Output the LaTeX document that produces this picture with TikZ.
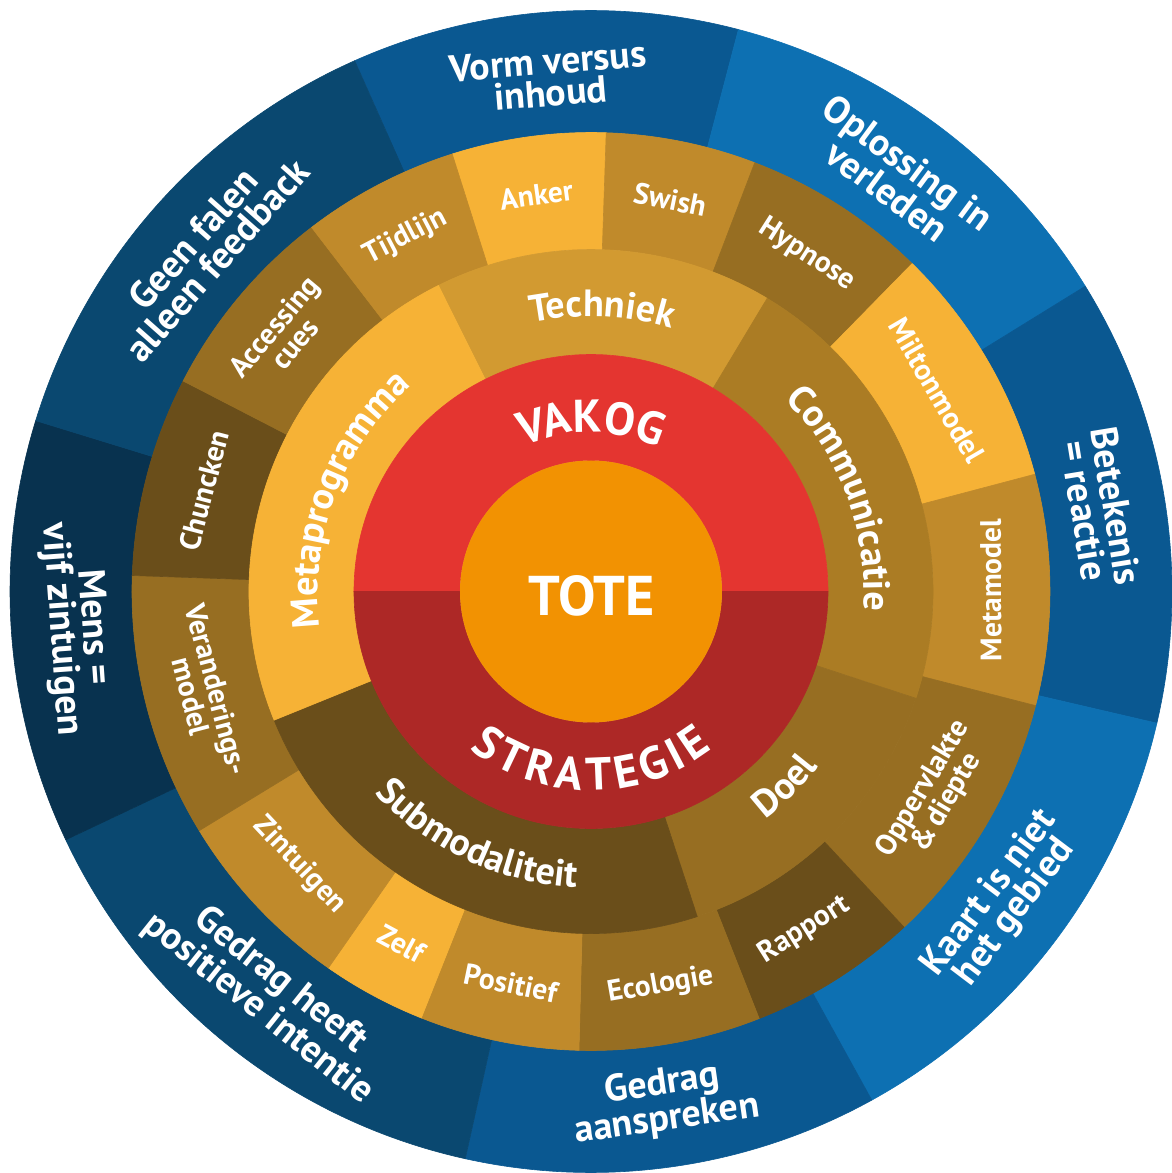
\documentclass[tikz,border=0pt]{standalone}
\usepackage{fontspec}
\setmainfont{PT Sans}
\usetikzlibrary{decorations.text}

\definecolor{bluemid}{HTML}{0A5891}
\definecolor{bluelight}{HTML}{0D70B2}
\definecolor{bluedark}{HTML}{0A4870}
\definecolor{bluedeep}{HTML}{08324F}
\definecolor{goldA}{HTML}{F6B236}
\definecolor{goldB}{HTML}{C08A2B}
\definecolor{goldC}{HTML}{976E22}
\definecolor{goldD}{HTML}{6A4E1A}
\definecolor{techgold}{HTML}{D29A31}
\definecolor{commgold}{HTML}{AB7C24}
\definecolor{vakred}{HTML}{E43530}
\definecolor{stratred}{HTML}{AD2826}
\definecolor{toteorange}{HTML}{F29202}

% piece of a ring: inner radius, outer radius, from, to, colour
\newcommand{\ringpart}[5]{%
  \filldraw[fill=#5,draw=#5,line width=.6pt] (#3:#1) arc[start angle=#3,end angle=#4,radius=#1]
    -- (#4:#2) arc[start angle=#4,end angle=#3,radius=#2] -- cycle;}

\newcommand{\outerfont}{\bfseries\fontsize{38}{32}\selectfont}
\newcommand{\skillfont}{\bfseries\fontsize{29.5}{27}\selectfont}
\newcommand{\themefont}{\bfseries\fontsize{38}{38}\selectfont}
\newcommand{\corefont}{\bfseries\fontsize{46}{46}\selectfont}

\begin{document}
\begin{tikzpicture}[x=1pt,y=1pt,
outer label/.style={text=white,font=\outerfont,align=center,inner sep=0pt},
skill label/.style={text=white,font=\skillfont,align=center,inner sep=0pt},
arc label/.style={decorate,decoration={text along path,text align=center,text color=white}}]
\useasboundingbox (-591,-581.5) rectangle (580,591.5);

% outer ring
\foreach \a/\b/\c/\txt [count=\i] in {
  75.3/114/bluemid/{Vorm versus\\inhoud},
  31.7/75.3/bluelight/{Oplossing in\\verleden},
  -13.1/31.7/bluemid/{Betekenis\\= reactie},
  -61.1/-13.1/bluelight/{Kaart is niet\\het gebied},
  -102.5/-61.1/bluemid/{Gedrag\\aanspreken},
  205.3/257.5/bluedark/{Gedrag heeft\\positieve intentie},
  162.9/205.3/bluedeep/{Mens =\\vijf zintuigen},
  114/162.9/bluedark/{Geen falen\\alleen feedback}} {
  \ringpart{459}{581}{\a}{\b}{\c}
  \pgfmathsetmacro\angm{(\a+\b)/2}
  \pgfmathsetmacro\angn{mod(\angm+360,360)}
  \pgfmathsetmacro\tilt{ifthenelse(and(\angn>5,\angn<180),\angm-90,\angm+90)}
  \node[outer label,rotate=\tilt] (p\i) at (\angm:516) {\txt};
}

% techniques
\foreach \a/\b/\c/\txt [count=\i] in {
  88.1/107.6/goldA/Anker,
  69.1/88.1/goldB/Swish,
  45.6/69.1/goldC/Hypnose,
  14.8/45.6/goldA/Miltonmodel,
  -14.4/14.8/goldB/Metamodel,
  -47/-14.4/goldC/{Oppervlakte\\\&\,diepte},
  -68.5/-47/goldD/Rapport,
  -91.5/-68.5/goldC/Ecologie,
  -111.7/-91.5/goldB/Positief,
  -124.9/-111.7/goldA/Zelf,
  211.4/235.1/goldB/Zintuigen,
  178/211.4/goldC/{Veranderings-\\model},
  152.7/178/goldD/Chuncken,
  127.5/152.7/goldC/{Accessing\\cues},
  107.6/127.5/goldB/Tijdlijn} {
  \ringpart{342}{459}{\a}{\b}{\c}
  \pgfmathsetmacro\angm{(\a+\b)/2}
  \pgfmathsetmacro\angn{mod(\angm+360,360)}
  \pgfmathsetmacro\tilt{ifthenelse(and(\angn>5,\angn<180),\angm-90,\angm+90)}
  \node[skill label,rotate=\tilt] (s\i) at (\angm:400) {\txt};
}

% themes
\ringpart{237}{342}{59}{116.5}{techgold}
\ringpart{237}{342}{-18.2}{59}{commgold}
\ringpart{237}{342}{-71.9}{-18.2}{goldC}
\ringpart{237}{342}{-157.9}{-71.9}{goldD}
\ringpart{237}{342}{116.5}{202.1}{goldA}
\path[arc label,decoration={text={|\themefont|{Te}chniek}}] (116.5:275) arc[start angle=116.5,end angle=59,radius=275];
\path[arc label,decoration={text={|\themefont|Communicatie}}] (59:273) arc[start angle=59,end angle=-18.2,radius=273];
\path[arc label,decoration={text={|\themefont|Metaprogramma}}] (202.1:273) arc[start angle=202.1,end angle=116.5,radius=273];
\path[arc label,decoration={text={|\themefont|Doel}}] (-71.9:287) arc[start angle=-71.9,end angle=-18.2,radius=287];
\path[arc label,decoration={text={|\themefont|Submodaliteit}}] (202.1:296) arc[start angle=202.1,end angle=288.1,radius=296];

% core
\ringpart{131}{237}{0}{180}{vakred}
\ringpart{131}{237}{180}{360}{stratred}
\path[arc label,decoration={text={|\corefont|{VA}KOG}}] (180:159) arc[start angle=180,end angle=0,radius=159];
\path[arc label,decoration={text={|\corefont|S{\kern5pt}T{\kern5pt}R{\kern5pt}A{\kern5pt}T{\kern5pt}E{\kern5pt}G{\kern5pt}I{\kern5pt}E}}] (180:199) arc[start angle=180,end angle=360,radius=199];
\fill[toteorange] (0,0) circle[radius=131];
\node[text=white,font=\bfseries\fontsize{56}{56}\selectfont,inner sep=0pt] (tote) at (0.5,-4.5) {TOTE};
\end{tikzpicture}
\end{document}
